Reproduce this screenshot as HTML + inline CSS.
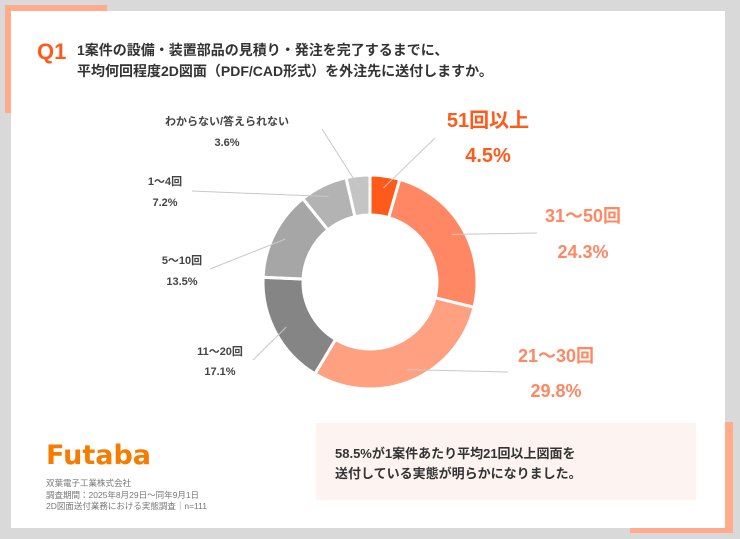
<!DOCTYPE html>
<html><head><meta charset="utf-8">
<style>
body{margin:0;width:740px;height:539px;background:#d9d9d9;position:relative;overflow:hidden;font-family:"Liberation Sans","Noto Sans CJK JP",sans-serif;}
.abs{position:absolute}
</style></head>
<body>
<div class="abs" style="left:5px;top:5px;width:102px;height:9px;background:#ffab8c"></div>
<div class="abs" style="left:5px;top:5px;width:9px;height:108px;background:#ffab8c"></div>
<div class="abs" style="left:724px;top:422px;width:9px;height:111px;background:#ffab8c"></div>
<div class="abs" style="left:630px;top:524px;width:103px;height:9px;background:#ffab8c"></div>
<div class="abs" style="left:11px;top:11px;width:714px;height:517px;background:#fff"></div>
<div class="abs" style="left:37px;top:39px;font-size:22px;font-weight:bold;color:#ff5a1a">Q1</div>
<div class="abs" style="left:77px;top:40px;font-size:14px;font-weight:bold;color:#333;line-height:21px">1案件の設備・装置部品の見積り・発注を完了するまでに、<br>平均何回程度2D図面（PDF/CAD形式）を外注先に送付しますか。</div>

<svg class="abs" style="left:0;top:0" width="740" height="539">
<g id="chart"></g>
</svg>

<div class="abs" style="left:46px;top:440px;font-size:27px;font-weight:900;color:#f57c00;letter-spacing:0px;font-family:'DejaVu Sans','Liberation Sans',sans-serif">Futaba</div>
<div class="abs" style="left:46px;top:478px;font-size:8.5px;color:#777;line-height:11.5px">双葉電子工業株式会社<br>調査期間：2025年8月29日〜同年9月1日<br>2D図面送付業務における実態調査｜n=111</div>
<div class="abs" style="left:316px;top:423px;width:380px;height:77px;background:#fdf3f0"></div>
<div class="abs" style="left:335px;top:444px;font-size:13px;font-weight:bold;color:#333;line-height:20px">58.5%が1案件あたり平均21回以上図面を<br>送付している実態が明らかになりました。</div>

<script>
const categories=["51回以上","31〜50回","21〜30回","11〜20回","5〜10回","1〜4回","わからない/答えられない"];
const values=[4.5,24.3,29.8,17.1,13.5,7.2,3.6];
const valueLabels=["4.5%","24.3%","29.8%","17.1%","13.5%","7.2%","3.6%"];
const colors=["#ff5a1a","#ff8763","#ffa080","#858585","#a6a6a6","#b3b3b3","#c4c4c4"];
const labelPos=[[488,127,20,"#ff5a1a",35],[583,222,18,"#ff8763",36],[556,362,18,"#ff8763",35],[220,355,11,"#444",20],[182,264,11,"#444",21],[165,185,11,"#444",21],[227,125,11,"#444",21]];
const lineEnds=[[435,138],[537,233],[508,372],[253,360],[210,269],[192,191],[322,129]];
const cx=370,cy=282,R=107,r=67;
const ns="http://www.w3.org/2000/svg";
const g=document.getElementById('chart');
const total=values.reduce((a,b)=>a+b,0);
function pt(a,rad){return [cx+rad*Math.sin(a),cy-rad*Math.cos(a)];}
let acc=0;
values.forEach((v,i)=>{
 const a0=acc/total*2*Math.PI,a1=(acc+v)/total*2*Math.PI;acc+=v;
 const p1=pt(a0,R),p2=pt(a1,R),p3=pt(a1,r),p4=pt(a0,r);
 const lg=(a1-a0)>Math.PI?1:0;
 const p=document.createElementNS(ns,'path');
 p.setAttribute('d',`M${p1}A${R},${R} 0 ${lg} 1 ${p2}L${p3}A${r},${r} 0 ${lg} 0 ${p4}Z`);
 p.setAttribute('fill',colors[i]);p.setAttribute('stroke','#fff');p.setAttribute('stroke-width','3');
 
 
 g.appendChild(p);
 const m=pt((a0+a1)/2,(R+r)/2+8);
 const l=document.createElementNS(ns,'line');
 l.setAttribute('x1',m[0]);l.setAttribute('y1',m[1]);l.setAttribute('x2',lineEnds[i][0]);l.setAttribute('y2',lineEnds[i][1]);
 l.setAttribute('stroke','#c8c8c8');l.setAttribute('stroke-width','1');
 
 
 g.appendChild(l);
 const lp=labelPos[i];
 [categories[i],valueLabels[i]].forEach((t,k)=>{
  const tx=document.createElementNS(ns,'text');
  tx.setAttribute('x',lp[0]);tx.setAttribute('y',lp[1]+k*lp[4]);
  tx.setAttribute('text-anchor','middle');tx.setAttribute('font-size',lp[2]);tx.setAttribute('font-weight','bold');
  tx.setAttribute('fill',lp[3]);
  
  
  tx.textContent=t;g.appendChild(tx);
 });
});
</script>
</body></html>
